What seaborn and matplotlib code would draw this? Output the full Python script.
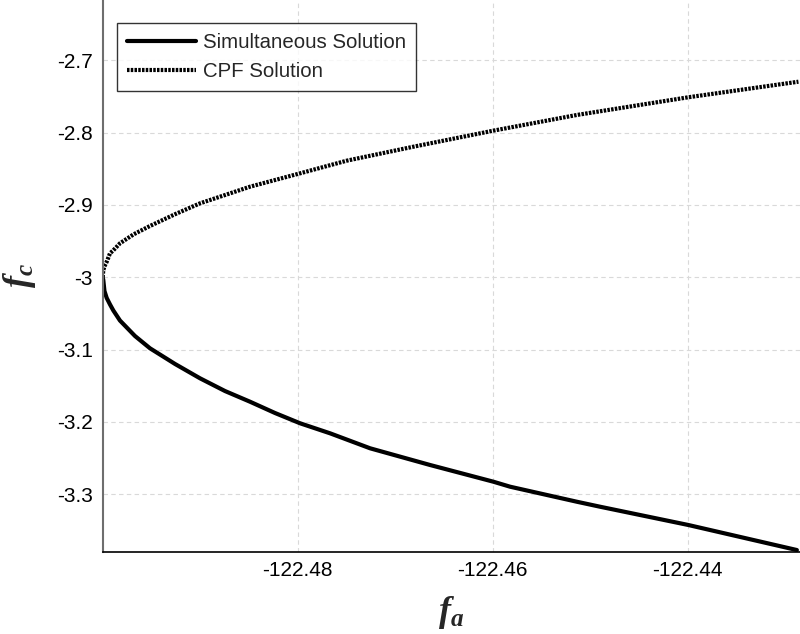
import numpy as np
import pandas as pd
import matplotlib
matplotlib.use("Agg")
import matplotlib.pyplot as plt
import seaborn as sns

# ------------------------------
# Data
# ------------------------------
fa_sim = [-122.50000, -122.49994, -122.49982, -122.49959, -122.49925, -122.49891,
          -122.49823, -122.49669, -122.49515, -122.49258, -122.49002, -122.48746,
          -122.48489, -122.48233, -122.47976, -122.47668, -122.47258, -122.46643,
          -122.45994, -122.45823, -122.45138, -122.44900, -122.43994, -122.42882]
fc_sim = [-3.0000, -3.0037, -3.0189, -3.0286, -3.0376, -3.0459,
          -3.0598, -3.0812, -3.0982, -3.1199, -3.1397, -3.1573,
          -3.1721, -3.1877, -3.2019, -3.2158, -3.2365, -3.2596,
          -3.2827, -3.2896, -3.3104, -3.3173, -3.3426, -3.3772]

fa_cpf = [-122.50000, -122.49994, -122.49982, -122.49959, -122.49925, -122.49891,
          -122.49823, -122.49682, -122.49515, -122.49259, -122.49002, -122.48489,
          -122.47976, -122.47497, -122.46814, -122.45994, -122.45138, -122.43994,
          -122.42866]
fc_cpf = [-3.0000, -2.9903, -2.9848, -2.9786, -2.9668, -2.9627,
          -2.9530, -2.9405, -2.9290, -2.9128, -2.8977, -2.8747,
          -2.8562, -2.8387, -2.8194, -2.7972, -2.7755, -2.7510,
          -2.7295]

x_ticks = [-122.48, -122.46, -122.44]
y_ticks = [-3.3, -3.2, -3.1, -3.0, -2.9, -2.8, -2.7]
y_tick_labels = ["-3.3", "-3.2", "-3.1", "-3", "-2.9", "-2.8", "-2.7"]

df_sim = pd.DataFrame({"fa": fa_sim, "fc": fc_sim})
df_cpf = pd.DataFrame({"fa": fa_cpf, "fc": fc_cpf})

# ------------------------------
# Style
# ------------------------------
sns.set_style("white")
plt.rcParams["font.family"] = ["Liberation Sans", "DejaVu Sans"]
plt.rcParams["mathtext.fontset"] = "custom"
plt.rcParams["mathtext.it"] = "Liberation Serif:italic:bold"
plt.rcParams["mathtext.rm"] = "Liberation Serif:bold"

fig = plt.figure(figsize=(8.0, 6.34), dpi=100)
ax = fig.add_axes([102.7 / 800, (634 - 551.7) / 634, (800 - 102.7) / 800, 551.7 / 634])

sns.lineplot(data=df_sim, x="fa", y="fc", ax=ax, color="black", lw=3,
             sort=False, estimator=None, label="Simultaneous Solution")
sns.lineplot(data=df_cpf, x="fa", y="fc", ax=ax, color="black", lw=3,
             sort=False, estimator=None, label="CPF Solution",
             linestyle=(0, (0.6, 0.3)))

ax.set_xlim(-122.5, -122.4285)
ax.set_ylim(-3.3795, -2.6165)
ax.set_xticks(x_ticks)
ax.set_xticklabels([f"{v:.2f}" for v in x_ticks])
ax.set_yticks(y_ticks)
ax.set_yticklabels(y_tick_labels)
ax.tick_params(direction="in", length=7, width=1, labelsize=15, pad=7, colors="black")

ax.grid(True, color="#d9d9d9", linestyle=(0, (4, 3)), linewidth=0.8)
for s in ["top", "right"]:
    ax.spines[s].set_visible(False)
ax.spines["left"].set_color("#6e6e6e")
ax.spines["left"].set_linewidth(1.5)
ax.spines["bottom"].set_color("black")
ax.spines["bottom"].set_linewidth(1.2)

ax.set_xlabel(r"$f_a$", fontsize=26, labelpad=10)
ax.set_ylabel(r"$f_c$", fontsize=26, labelpad=14)

leg = ax.legend(loc="upper left", bbox_to_anchor=(0.0205, 0.958), borderaxespad=0,
                fontsize=14.7, handlelength=3.35, frameon=True, fancybox=False,
                borderpad=0.5, labelspacing=0.47, handletextpad=0.35)
leg.get_frame().set_edgecolor("black")
leg.get_frame().set_linewidth(1.0)

fig.savefig("out.png", dpi=100)
